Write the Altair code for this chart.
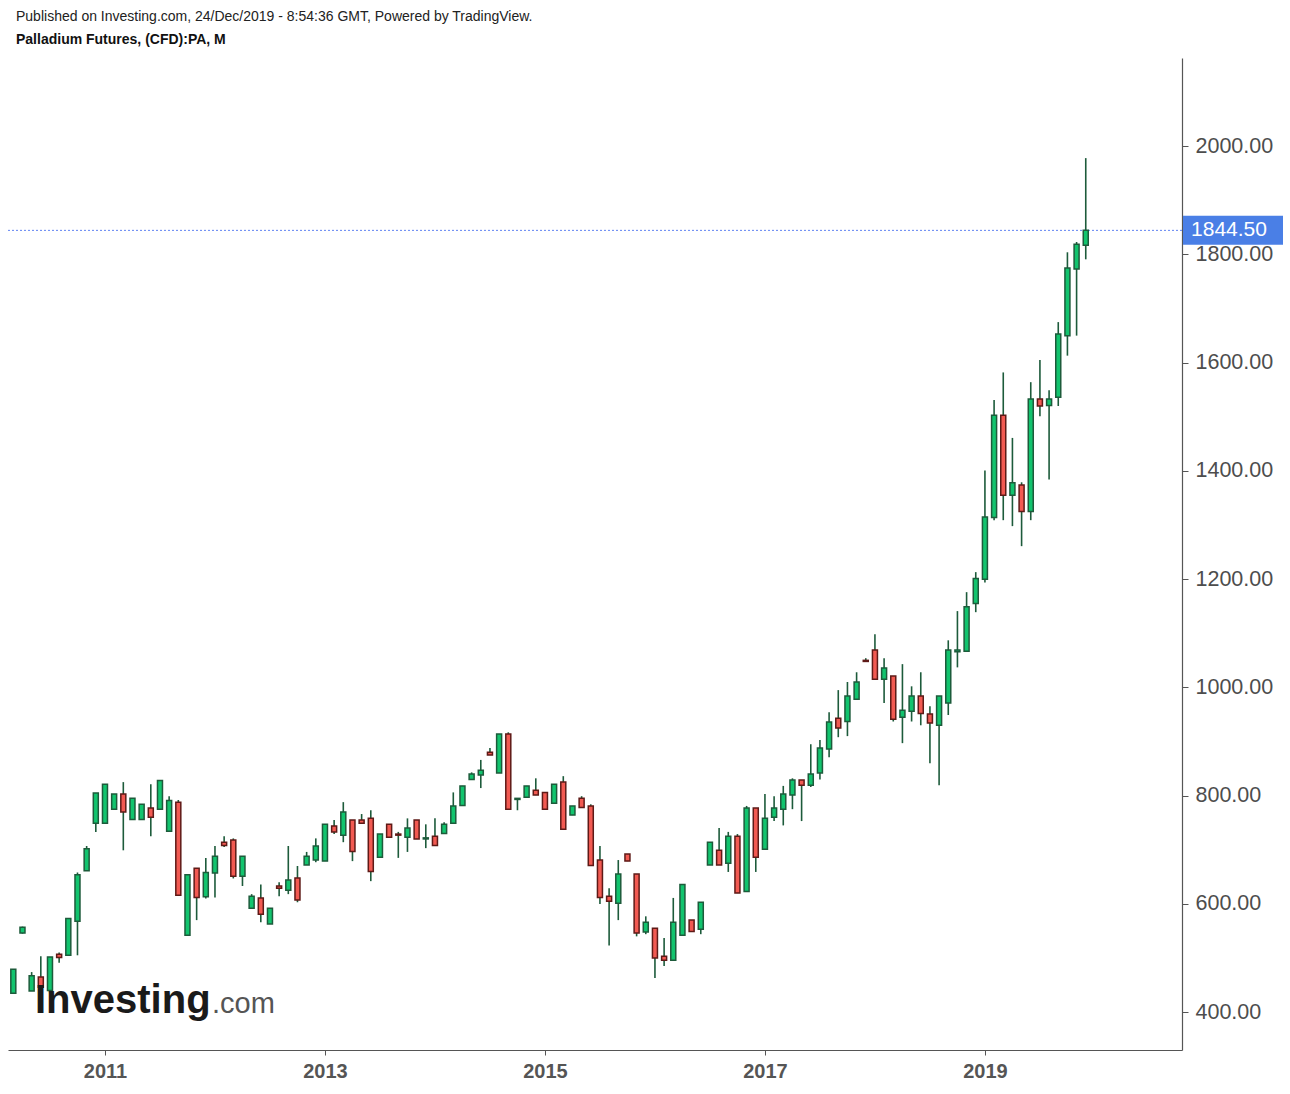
import altair as alt
import pandas as pd
import numpy as np

# Monthly candles, Mar 2010 .. Dec 2019
start_year, start_month = 2010, 3

opens = [435, 546, 439, 465, 440, 507, 505, 568, 661, 749,
         749, 775, 803, 756, 756, 777, 775, 734, 788, 542, 666, 613,
         657, 714, 718, 651, 592, 611, 563, 633, 625, 648, 672, 681,
         679, 744, 727, 755, 755, 758, 686, 747, 729, 723, 755, 720,
         725, 730, 749, 782, 830, 838, 880, 842, 914, 793, 797, 810,
         806, 786, 825, 764, 795, 781, 681, 614, 601, 692, 655, 548,
         555, 503, 496, 542, 570, 553, 672, 699, 675, 725, 623, 777,
         701, 760, 775, 801, 829, 819, 842, 886, 943, 937, 978, 1050,
         1069, 1015, 1021, 945, 956, 984, 951, 930, 971, 1066, 1067, 1155,
         1200, 1314, 1503, 1355, 1374, 1325, 1533, 1521, 1536, 1650, 1773, 1817]

highs = [479, 558, 474, 503, 502, 510, 573, 658, 707, 805,
         821, 803, 825, 795, 784, 821, 828, 799, 792, 654, 666, 685,
         707, 725, 721, 688, 618, 636, 592, 640, 707, 670, 696, 721,
         747, 755, 788, 755, 766, 773, 729, 747, 733, 758, 755, 747,
         758, 751, 806, 818, 843, 866, 888, 914, 917, 795, 818, 832,
         806, 821, 836, 781, 799, 784, 707, 629, 681, 692, 655, 577,
         555, 537, 611, 636, 570, 603, 714, 740, 733, 729, 781, 777,
         803, 799, 818, 832, 829, 895, 903, 954, 995, 1010, 1028, 1054,
         1098, 1054, 1021, 1043, 1002, 1028, 965, 984, 1087, 1141, 1176, 1213,
         1401, 1531, 1582, 1461, 1379, 1564, 1605, 1549, 1675, 1804, 1823, 1978]

lows = [435, 545, 439, 446, 440, 491, 505, 505, 661, 733,
        749, 775, 699, 756, 756, 725, 775, 734, 616, 542, 570, 610,
        612, 705, 647, 633, 592, 566, 563, 614, 618, 603, 672, 677,
        679, 729, 714, 679, 749, 642, 686, 723, 685, 696, 720, 703,
        708, 730, 749, 782, 830, 814, 875, 842, 775, 773, 797, 801,
        775, 786, 738, 764, 778, 671, 600, 523, 570, 679, 540, 544,
        463, 485, 496, 542, 549, 544, 672, 672, 659, 620, 623, 659,
        701, 753, 745, 775, 753, 816, 830, 871, 908, 910, 978, 1048,
        1015, 971, 937, 897, 937, 930, 860, 819, 949, 1037, 1067, 1139,
        1194, 1309, 1309, 1298, 1261, 1309, 1501, 1384, 1520, 1613, 1650, 1791]

closes = [479, 557, 467, 446, 502, 501, 573, 654, 702, 805,
          821, 803, 770, 795, 784, 760, 828, 791, 616, 654, 612, 658,
          688, 708, 651, 688, 614, 581, 592, 629, 644, 607, 688, 707,
          747, 733, 770, 697, 749, 660, 729, 723, 727, 740, 720, 722,
          708, 747, 781, 818, 840, 847, 875, 914, 775, 795, 818, 801,
          775, 821, 738, 781, 778, 671, 612, 605, 655, 679, 546, 566,
          500, 496, 566, 636, 549, 603, 714, 672, 725, 620, 777, 686,
          758, 777, 803, 829, 819, 840, 888, 936, 925, 984, 1010, 1048,
          1015, 1036, 941, 958, 984, 952, 934, 984, 1069, 1069, 1149, 1201,
          1315, 1503, 1355, 1378, 1325, 1533, 1520, 1533, 1653, 1775, 1819, 1844.5]

year_ticks = [2011, 2013, 2015, 2017, 2019]
price_ticks = [400, 600, 800, 1000, 1200, 1400, 1600, 1800, 2000]
last_price = 1844.5

header1 = "Published on Investing.com, 24/Dec/2019 - 8:54:36 GMT, Powered by TradingView."
header2 = "Palladium Futures, (CFD):PA, M"

n = len(opens)
first_idx = (start_year - 2010) * 12 + (start_month - 1)
df = pd.DataFrame({
    "i": list(range(first_idx, first_idx + n)),
    "open": opens, "high": highs, "low": lows, "close": closes,
})
df["dir"] = np.where(df["close"] >= df["open"], "up", "down")

FONT = "Liberation Sans"
W, H = 1174, 992

xscale = alt.Scale(domain=[1.42, 129.5], nice=False, zero=False, padding=0)
yscale = alt.Scale(domain=[330, 2163], nice=False, zero=False)
xaxis = alt.Axis(values=[(y - 2010) * 12 for y in year_ticks],
                 labelExpr="'' + (2010 + floor(datum.value / 12))",
                 title=None, grid=False, orient="bottom",
                 labelFont=FONT, labelFontSize=20, labelFontWeight="bold",
                 labelColor="#555555", domainColor="#555555", tickColor="#555555",
                 tickSize=5, labelPadding=6, domainWidth=1.2)
yaxis = alt.Axis(values=price_ticks, format=".2f", title=None, grid=False,
                 orient="right", labelFont=FONT, labelFontSize=21.5,
                 labelColor="#4d4d4d", domainColor="#555555", tickColor="#555555",
                 tickSize=6, labelPadding=7, domainWidth=1.2)

dir_fill = alt.Scale(domain=["up", "down"], range=["#12c46e", "#f25a52"])
dir_stroke = alt.Scale(domain=["up", "down"], range=["#1d5b3b", "#5e1a17"])

base = alt.Chart(df)

wicks = base.mark_rule(color="#1d5b3b", strokeWidth=1.6).encode(
    x=alt.X("i:Q", scale=xscale, axis=xaxis),
    y=alt.Y("low:Q", scale=yscale, axis=yaxis),
    y2="high:Q",
)

bodies = base.mark_bar(size=5, strokeWidth=1.5).encode(
    x=alt.X("i:Q", scale=xscale, axis=xaxis),
    y=alt.Y("open:Q", scale=yscale, axis=yaxis),
    y2="close:Q",
    fill=alt.Fill("dir:N", scale=dir_fill, legend=None),
    stroke=alt.Stroke("dir:N", scale=dir_stroke, legend=None),
)

one = pd.DataFrame({"v": [last_price]})

price_line = alt.Chart(one).mark_rule(color="#5f82f2", strokeWidth=1, strokeDash=[2, 2]).encode(
    y=alt.Y("v:Q", scale=yscale, axis=yaxis),
)

price_box = alt.Chart(one).mark_rect(color="#4a7fe6", yOffset=-14.5, y2Offset=14.5).encode(
    x=alt.value(W + 1),
    x2=alt.value(W + 101),
    y=alt.Y("v:Q", scale=yscale, axis=yaxis),
    y2="v:Q",
)

price_text = alt.Chart(one).mark_text(font=FONT, fontSize=21, color="white",
                                      align="center", baseline="middle").encode(
    x=alt.value(W + 47),
    y=alt.Y("v:Q", scale=yscale, axis=yaxis),
    text=alt.Text("v:Q", format=".2f"),
)

hdr = pd.DataFrame({"t": [header1]})
hdr2 = pd.DataFrame({"t": [header2]})
h1 = alt.Chart(hdr).mark_text(font=FONT, fontSize=14, color="#222222", align="left",
                              baseline="middle").encode(
    x=alt.value(8), y=alt.value(-41), text="t:N")
h2 = alt.Chart(hdr2).mark_text(font=FONT, fontSize=14, fontWeight="bold", color="#111111",
                               align="left", baseline="middle").encode(
    x=alt.value(8), y=alt.value(-18), text="t:N")

logo1 = alt.Chart(pd.DataFrame({"t": ["Investing"]})).mark_text(
    font=FONT, fontSize=40, fontWeight="bold", color="#1a1a1a", align="left",
    baseline="alphabetic").encode(x=alt.value(27), y=alt.value(955), text="t:N")
logo2 = alt.Chart(pd.DataFrame({"t": [".com"]})).mark_text(
    font=FONT, fontSize=29, color="#555555", align="left",
    baseline="alphabetic").encode(x=alt.value(204), y=alt.value(955), text="t:N")

chart = alt.layer(
    price_line, wicks, bodies, price_box, price_text, h1, h2, logo1, logo2
).properties(
    width=W, height=H,
    autosize=alt.AutoSizeParams(type="none"),
    padding={"left": 8, "top": 58, "right": 108, "bottom": 44},
    background="white",
).configure_view(strokeWidth=0)

chart.save("out.html", embed_options={"renderer": "svg", "actions": False})
